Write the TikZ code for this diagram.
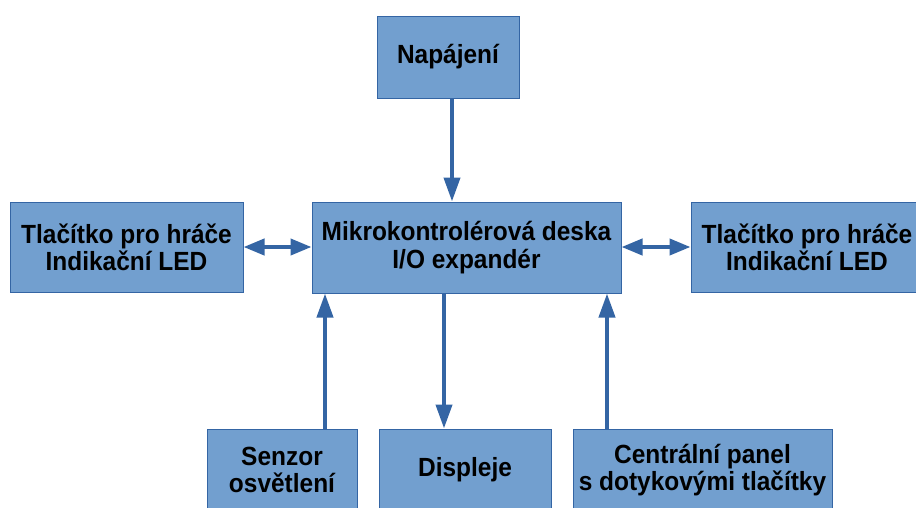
\documentclass[tikz,border=0pt]{standalone}
\usepackage{fontspec}
\setmainfont{Liberation Sans}[FakeStretch=0.93]
\usetikzlibrary{arrows.meta}
\definecolor{boxfill}{HTML}{729FCF}
\definecolor{boxline}{HTML}{3465A4}
\begin{document}
\begin{tikzpicture}[x=1pt,y=-1pt,
  block/.style={draw=boxline, line width=1pt, fill=boxfill, inner sep=0pt,
    align=center, font=\fontsize{26.3}{27.5}\selectfont\bfseries},
  conn/.style={draw=boxline, line width=4pt,
    -{Triangle[length=24pt,width=16pt]}},
  dconn/.style={draw=boxline, line width=4pt,
    {Triangle[length=21pt,width=16pt]}-{Triangle[length=21pt,width=16pt]}}]
\useasboundingbox (0,0) rectangle (916,507);
\clip (0,0) rectangle (916,507);
\node[block, minimum width=142pt, minimum height=82pt] (nap) at (448,57) {Napájení};
\node[block, minimum width=309pt, minimum height=91pt] (mcu) at (466.5,247.5) {Mikrokontrolérová deska\\I/O expandér};
\node[block, minimum width=233pt, minimum height=90pt] (left) at (126.5,247.5) {Tlačítko pro hráče\\Indikační LED};
\node[block, minimum width=232pt, minimum height=90pt] (right) at (807,247.5) {Tlačítko pro hráče\\Indikační LED};
\node[block, minimum width=150pt, minimum height=82pt] (sen) at (282,470) {Senzor\\osvětlení};
\node[block, minimum width=172pt, minimum height=82pt] (disp) at (465,470) {Displeje};
\node[block, minimum width=259pt, minimum height=82pt] (cent) at (702.5,470) {Centrální panel\\s dotykovými tlačítky};
\draw[conn] (nap.south -| 452,0) -- (mcu.north -| 452,0);
\draw[conn] (mcu.south -| 444,0) -- (disp.north -| 444,0);
\draw[conn] (sen.north -| 325,0) -- (mcu.south -| 325,0);
\draw[conn] (cent.north -| 607,0) -- (mcu.south -| 607,0);
\draw[dconn] (left.east |- 0,247) -- (mcu.west |- 0,247);
\draw[dconn] (mcu.east |- 0,247) -- (right.west |- 0,247);
\end{tikzpicture}
\end{document}
